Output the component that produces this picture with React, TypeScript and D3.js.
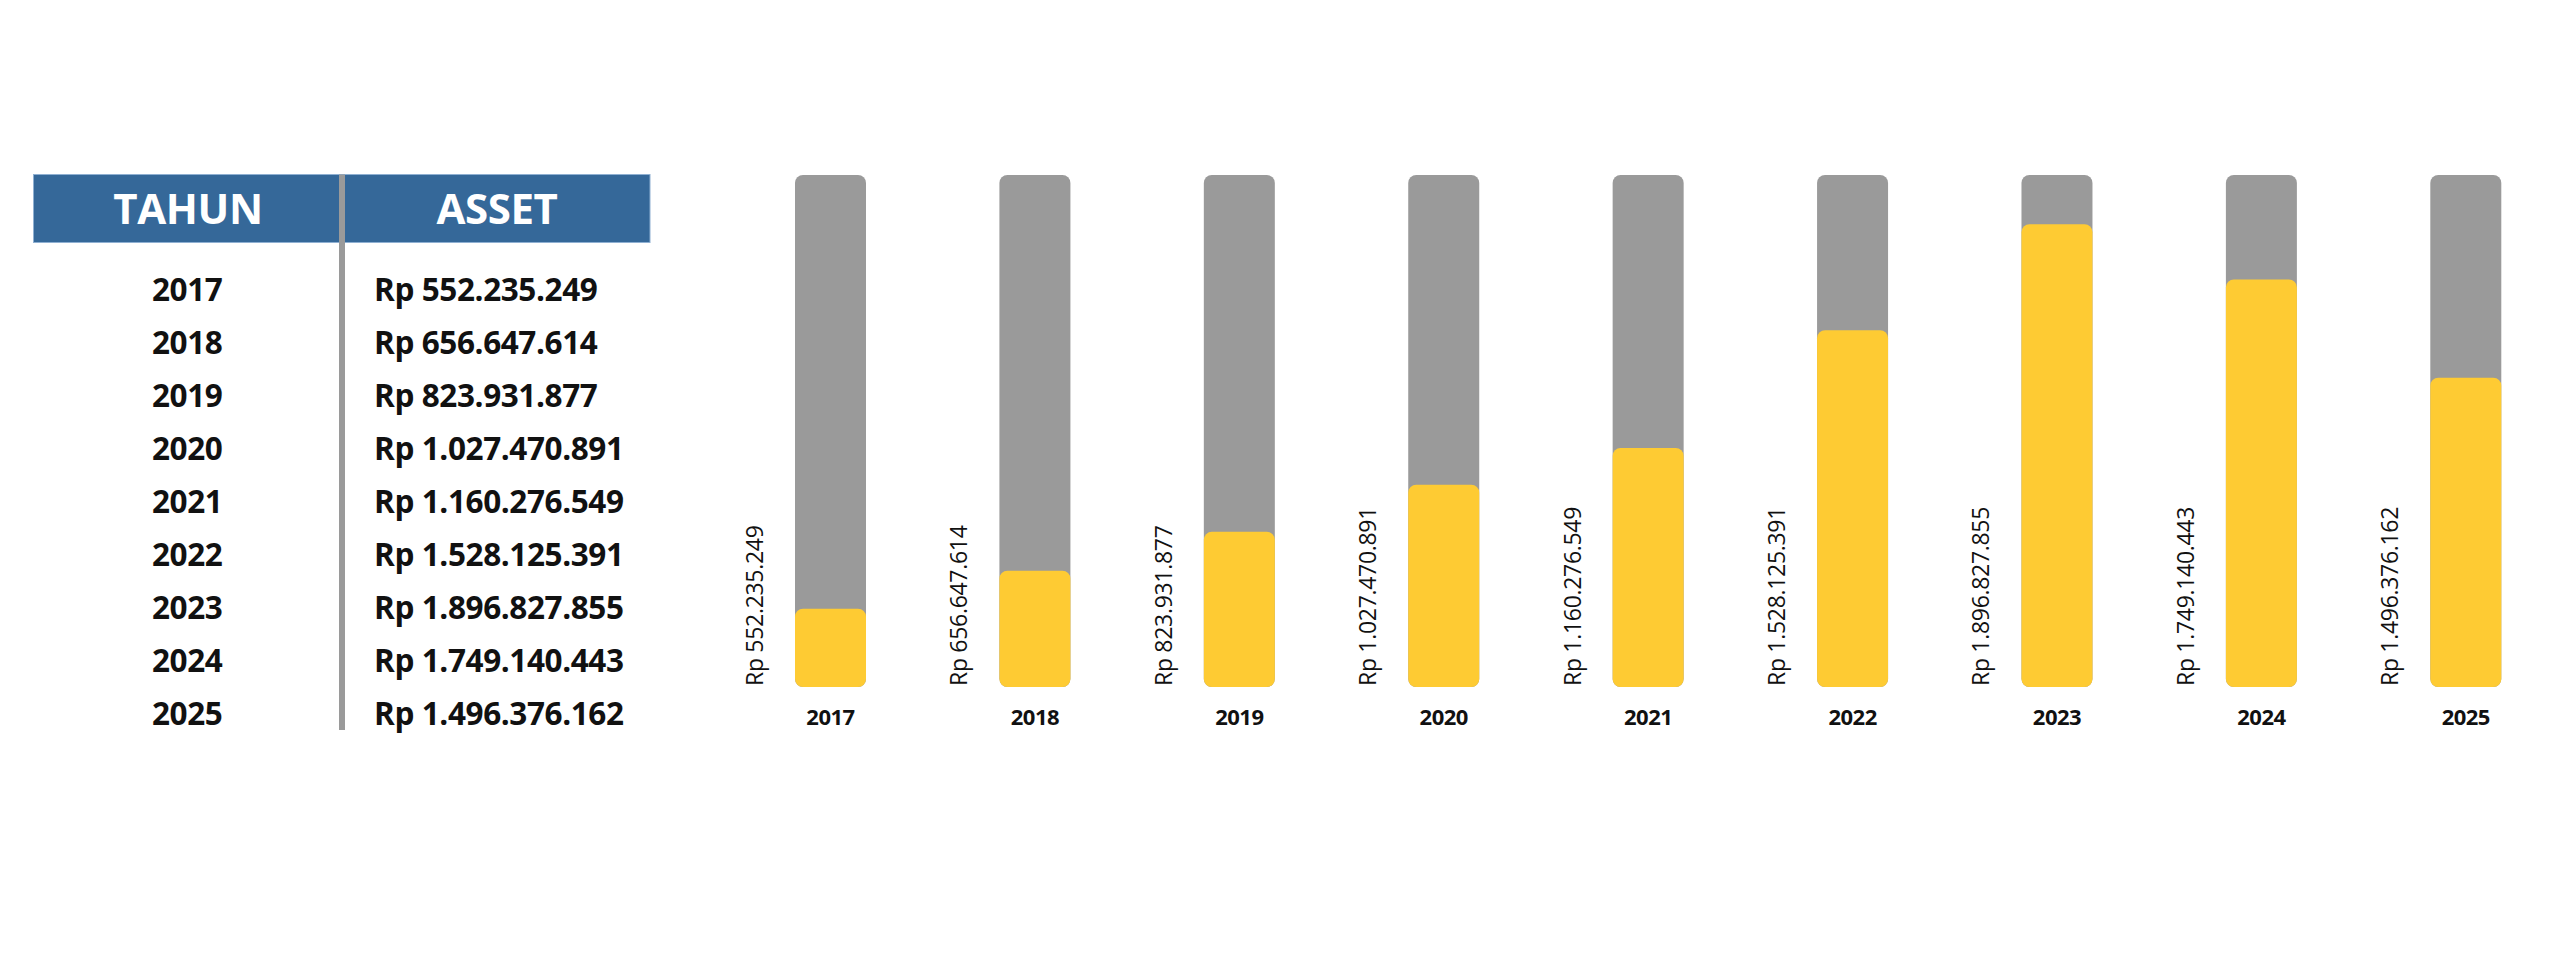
import React from 'react';
import * as d3 from 'd3';

// table + bar data
const years = ['2017', '2018', '2019', '2020', '2021', '2022', '2023', '2024', '2025'];
const assetLabels = [
  'Rp 552.235.249',
  'Rp 656.647.614',
  'Rp 823.931.877',
  'Rp 1.027.470.891',
  'Rp 1.160.276.549',
  'Rp 1.528.125.391',
  'Rp 1.896.827.855',
  'Rp 1.749.140.443',
  'Rp 1.496.376.162',
];
// yellow fill level of each bar, as % of the grey track
const fillLevels = [15.3, 22.7, 30.3, 39.5, 46.7, 69.7, 90.4, 79.6, 60.4];
const headerLabels = ['TAHUN', 'ASSET'];

const W = 2560;
const H = 960;
const BLUE = '#356899';
const GREY = '#9a9a9a';
const YELLOW = '#fecb33';
const INK = '#111111';
const BOLD_FONT = '"Open Sans", "DejaVu Sans", sans-serif';

const App: React.FC = () => {
  // table layout
  const rowY = d3.scalePoint<string>().domain(years).range([301, 725]);
  const tableLeft = 33.5;
  const tableRight = 650;
  const headerTop = 174.5;
  const headerBottom = 242.5;
  const dividerX = 342;
  const yearX = 152;
  const assetX = 374;

  // bars layout
  const x = d3.scalePoint<string>().domain(years).range([830.5, 2465.8]);
  const barW = 71;
  const y = d3.scaleLinear().domain([0, 100]).range([687, 175]);

  return (
    <svg
      width={W}
      height={H}
      viewBox={`0 0 ${W} ${H}`}
      style={{ position: 'absolute', left: 0, top: 0, background: '#ffffff' }}
    >
      {/* Table header */}
      <rect
        x={tableLeft}
        y={headerTop}
        width={tableRight - tableLeft}
        height={headerBottom - headerTop}
        fill={BLUE}
        stroke="#8fb0d2"
        strokeWidth={1}
      />
      <rect x={dividerX - 3} y={headerTop} width={6} height={730 - headerTop} fill={GREY} />
      {headerLabels.map((h, i) => (
        <text
          key={h}
          x={i === 0 ? 188 : 497}
          y={224}
          textAnchor="middle"
          fill="#ffffff"
          fontFamily={BOLD_FONT}
          fontWeight={700}
          fontSize={42}
          letterSpacing={-0.4}
        >
          {h}
        </text>
      ))}

      {/* Table rows */}
      {years.map((yr, i) => (
        <g key={yr} fontFamily={BOLD_FONT} fontWeight={700} fontSize={31.5} fill={INK} letterSpacing={-0.4}>
          <text x={yearX} y={rowY(yr)}>{yr}</text>
          <text x={assetX} y={rowY(yr)}>{assetLabels[i]}</text>
        </g>
      ))}

      {/* Bars */}
      {years.map((yr, i) => {
        const cx = x(yr) as number;
        return (
          <g key={`bar-${yr}`}>
            <rect
              x={cx - barW / 2}
              y={y(100)}
              width={barW}
              height={y(0) - y(100)}
              rx={8}
              fill={GREY}
            />
            <rect
              x={cx - barW / 2}
              y={y(fillLevels[i])}
              width={barW}
              height={y(0) - y(fillLevels[i])}
              rx={8}
              fill={YELLOW}
            />
            <text
              x={cx}
              y={724.5}
              textAnchor="middle"
              fontFamily={BOLD_FONT}
              fontWeight={700}
              fontSize={22}
              fill={INK}
              letterSpacing={-0.5}
            >
              {yr}
            </text>
            <text
              transform={`translate(${cx - barW / 2 - 32},${y(0) - 1}) rotate(-90)`}
              textAnchor="start"
              fontFamily={BOLD_FONT}
              fontWeight={400}
              fontSize={23}
              fill={INK}
              letterSpacing={-0.3}
            >
              {assetLabels[i]}
            </text>
          </g>
        );
      })}
    </svg>
  );
};

export default App;
